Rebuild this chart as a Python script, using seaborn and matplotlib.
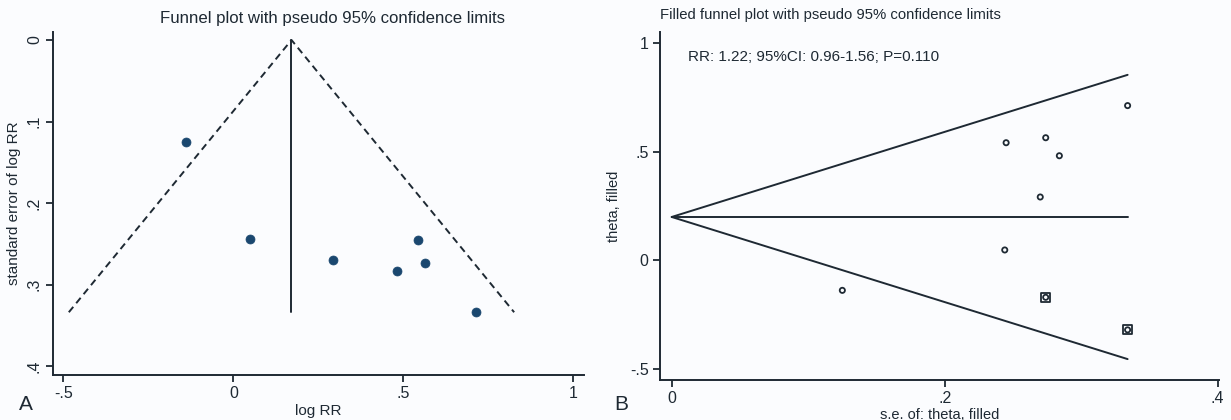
import numpy as np
import pandas as pd
import matplotlib
matplotlib.use("Agg")
import matplotlib.pyplot as plt
import seaborn as sns

# Observed studies: log risk ratio and its standard error
log_rr = [-0.138, 0.048, 0.292, 0.482, 0.542, 0.565, 0.713]
se_log_rr = [0.125, 0.244, 0.270, 0.284, 0.245, 0.274, 0.334]

# Studies imputed by trim-and-fill
filled_theta = [-0.170, -0.320]
filled_se = [0.274, 0.334]

# Pooled (fixed-effect) log RR before and after filling
pooled_observed = 0.171
pooled_filled = 0.20
z95 = 1.96

summary_text = "RR: 1.22; 95%CI: 0.96-1.56; P=0.110"

xticks_a = [-0.5, 0, 0.5, 1]
xticklabels_a = ["-.5", "0", ".5", "1"]
yticks_a = [0, 0.1, 0.2, 0.3, 0.4]
yticklabels_a = ["0", ".1", ".2", ".3", ".4"]
xticks_b = [0, 0.2, 0.4]
xticklabels_b = ["0", ".2", ".4"]
yticks_b = [-0.5, 0, 0.5, 1]
yticklabels_b = ["-.5", "0", ".5", "1"]

sns.set_theme(style="ticks")
plt.rcParams["font.family"] = ["Liberation Sans", "DejaVu Sans"]

INK = "#1e2933"
NAVY = "#1a476f"
BG = "#fbfcfe"

fig = plt.figure(figsize=(12.31, 4.20), dpi=100, facecolor=BG)


def style_axes(ax):
    ax.set_facecolor(BG)
    for side in ("top", "right"):
        ax.spines[side].set_visible(False)
    for side in ("left", "bottom"):
        ax.spines[side].set_linewidth(1.4)
        ax.spines[side].set_color(INK)
    ax.tick_params(direction="out", length=5, width=1.3, color=INK,
                   labelsize=11.5, labelcolor=INK, pad=3)


# ---------------- Panel A: funnel plot ----------------
axA = fig.add_axes([0.0431, 0.1071, 0.4313, 0.8167])
style_axes(axA)

se_max = max(se_log_rr)
funnel_a = pd.DataFrame({
    "x": [pooled_observed - z95 * se_max, pooled_observed, pooled_observed + z95 * se_max],
    "y": [se_max, 0.0, se_max],
})
sns.lineplot(data=funnel_a, x="x", y="y", ax=axA, sort=False, estimator=None,
             color=INK, lw=1.4, dashes=False, linestyle=(0, (3.6, 2.4)))
center_a = pd.DataFrame({"x": [pooled_observed, pooled_observed], "y": [0.0, se_max]})
sns.lineplot(data=center_a, x="x", y="y", ax=axA, sort=False, estimator=None,
             color=INK, lw=1.4)

studies = pd.DataFrame({"log_rr": log_rr, "se": se_log_rr})
sns.scatterplot(data=studies, x="log_rr", y="se", ax=axA, s=42,
                color=NAVY, edgecolor=NAVY, linewidth=0.5, zorder=5)

axA.set_xlim(-0.530, 1.031)
axA.set_ylim(0.411, -0.0098)
axA.set_xticks(xticks_a)
axA.set_xticklabels(xticklabels_a)
axA.set_yticks(yticks_a)
axA.set_yticklabels(yticklabels_a, rotation=90, va="center")
axA.set_xlabel("log RR", fontsize=11, color=INK, labelpad=2)
axA.set_ylabel("standard error of log RR", fontsize=11, color=INK, labelpad=4)

fig.text(332 / 1231, 1 - 18 / 420, "Funnel plot with pseudo 95% confidence limits",
         ha="center", va="center", fontsize=12.1, color=INK)
fig.text(26 / 1231, 1 - 405 / 420, "A", ha="center", va="center",
         fontsize=15, color=INK)

# ---------------- Panel B: filled funnel plot ----------------
axB = fig.add_axes([0.5359, 0.0952, 0.4544, 0.8286])
style_axes(axB)

se_all = se_log_rr + filled_se
se_max_b = max(se_all)
upper = pd.DataFrame({"x": [0.0, se_max_b], "y": [pooled_filled, pooled_filled + z95 * se_max_b]})
lower = pd.DataFrame({"x": [0.0, se_max_b], "y": [pooled_filled, pooled_filled - z95 * se_max_b]})
center_b = pd.DataFrame({"x": [0.0, se_max_b], "y": [pooled_filled, pooled_filled]})
for frame in (upper, lower, center_b):
    sns.lineplot(data=frame, x="x", y="y", ax=axB, sort=False, estimator=None,
                 color=INK, lw=1.4)

all_points = pd.DataFrame({"se": se_all, "theta": log_rr + filled_theta})
sns.scatterplot(data=all_points, x="se", y="theta", ax=axB, s=14, marker="o",
                facecolor="none", edgecolor=INK, linewidth=1.3, zorder=5)
imputed = pd.DataFrame({"se": filled_se, "theta": filled_theta})
sns.scatterplot(data=imputed, x="se", y="theta", ax=axB, s=42, marker="s",
                facecolor="none", edgecolor=INK, linewidth=1.3, zorder=6)

axB.set_xlim(-0.0088, 0.401)
axB.set_ylim(-0.551, 1.052)
axB.set_xticks(xticks_b)
axB.set_xticklabels(xticklabels_b)
axB.set_yticks(yticks_b)
axB.set_yticklabels(yticklabels_b)
axB.set_xlabel("s.e. of: theta, filled", fontsize=10.5, color=INK, labelpad=1)
axB.set_ylabel("theta, filled", fontsize=10.5, color=INK, labelpad=6)

axB.text(688 / 1231, 1 - 57 / 420, summary_text, transform=fig.transFigure,
         ha="left", va="center", fontsize=11, color=INK)
fig.text(660 / 1231, 1 - 15 / 420, "Filled funnel plot with pseudo 95% confidence limits",
         ha="left", va="center", fontsize=10.7, color=INK)
fig.text(621 / 1231, 1 - 405 / 420, "B", ha="center", va="center",
         fontsize=15, color=INK)

fig.savefig("out.png", dpi=100, facecolor=BG)
